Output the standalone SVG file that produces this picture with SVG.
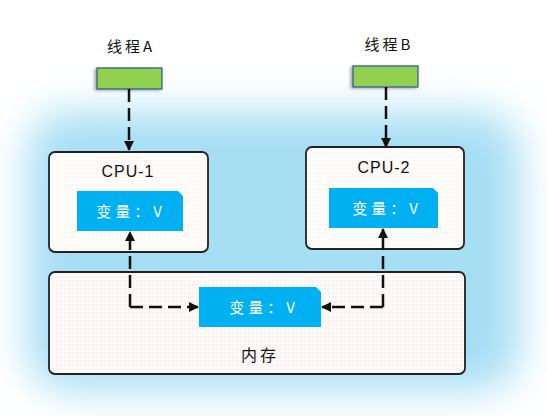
<svg xmlns="http://www.w3.org/2000/svg" width="547" height="416" viewBox="0 0 547 416">
<style>
.lbl{font-family:"Noto Sans CJK SC","Liberation Sans",sans-serif;font-size:15px;fill:#111;text-anchor:middle;letter-spacing:3px}
.cpu{font-family:"Liberation Sans","Noto Sans CJK SC",sans-serif;font-size:16px;fill:#111;text-anchor:middle;letter-spacing:1px}
.var{font-family:"Noto Sans CJK SC","Liberation Sans",sans-serif;font-size:15px;fill:#fff;text-anchor:middle;letter-spacing:4px}
.thread{fill:#92d050;stroke:#2f5597;stroke-width:1.2}
.box{stroke:#222;stroke-width:1.8}
.vbox{fill:#00b0f0}
.con{fill:none;stroke:#111;stroke-width:2.5;stroke-dasharray:13,6}
</style>
<defs>
<filter id="glow" x="-30%" y="-30%" width="160%" height="160%"><feGaussianBlur stdDeviation="20"/></filter>
<filter id="sh" x="-20%" y="-20%" width="140%" height="160%"><feDropShadow dx="-2" dy="1" stdDeviation="1.5" flood-color="#000" flood-opacity="0.35"/></filter>
<pattern id="dotsO" width="4" height="4" patternUnits="userSpaceOnUse"><rect width="4" height="4" fill="#fffdfb"/><circle cx="1" cy="1" r="0.5" fill="#f6d6c0"/></pattern>
<pattern id="dotsP" width="4" height="4" patternUnits="userSpaceOnUse"><rect width="4" height="4" fill="#fffafa"/><circle cx="1" cy="1" r="0.5" fill="#f5c2c6"/></pattern>
<marker id="ah" viewBox="0 0 10 10" refX="9" refY="5" markerWidth="4" markerHeight="4" orient="auto"><path d="M0,0 L10,5 L0,10 z" fill="#111"/></marker>
</defs>
<rect width="547" height="416" fill="#fff"/>
<g id="glow-bg"><rect x="28" y="112" width="492" height="278" rx="40" fill="#a6def4" filter="url(#glow)"/></g>

<g id="threadA"><text class="lbl" x="131" y="52">线程A</text><rect class="thread" x="97" y="68" width="65" height="21" filter="url(#sh)"/></g>
<g id="threadB"><text class="lbl" x="389" y="50">线程B</text><rect class="thread" x="353" y="66" width="65" height="21" filter="url(#sh)"/></g>

<g id="cpu1"><rect class="box" x="49" y="152" width="159" height="100" rx="6" fill="url(#dotsO)"/><text class="cpu" x="128" y="177">CPU-1</text>
<path class="vbox" d="M77,191 H178 L183,196 V231 H77 Z"/><text class="var" x="131" y="217">变量：V</text></g>
<g id="cpu2"><rect class="box" x="306" y="147" width="158" height="102" rx="6" fill="url(#dotsO)"/><text class="cpu" x="384" y="173">CPU-2</text>
<path class="vbox" d="M329,188 H433 L438,193 V228 H329 Z"/><text class="var" x="387" y="214">变量：V</text></g>
<g id="memory"><rect class="box" x="49" y="272" width="416" height="102" rx="6" fill="url(#dotsP)"/>
<path class="vbox" d="M199,287 H316 L321,292 V327 H199 Z"/><text class="var" x="264" y="313">变量：V</text>
<text class="lbl" x="260" y="361" style="font-size:16px">内存</text></g>

<g id="connectors">
<path class="con" d="M129,89 V150" marker-end="url(#ah)"/>
<path class="con" d="M386,87 V147" marker-end="url(#ah)"/>
<path class="con" d="M130,307 V232" marker-end="url(#ah)"/>
<path class="con" d="M130,307 H198" marker-end="url(#ah)"/>
<path class="con" d="M383,307 V229" marker-end="url(#ah)"/>
<path class="con" d="M383,307 H322" marker-end="url(#ah)"/>
</g>
</svg>
